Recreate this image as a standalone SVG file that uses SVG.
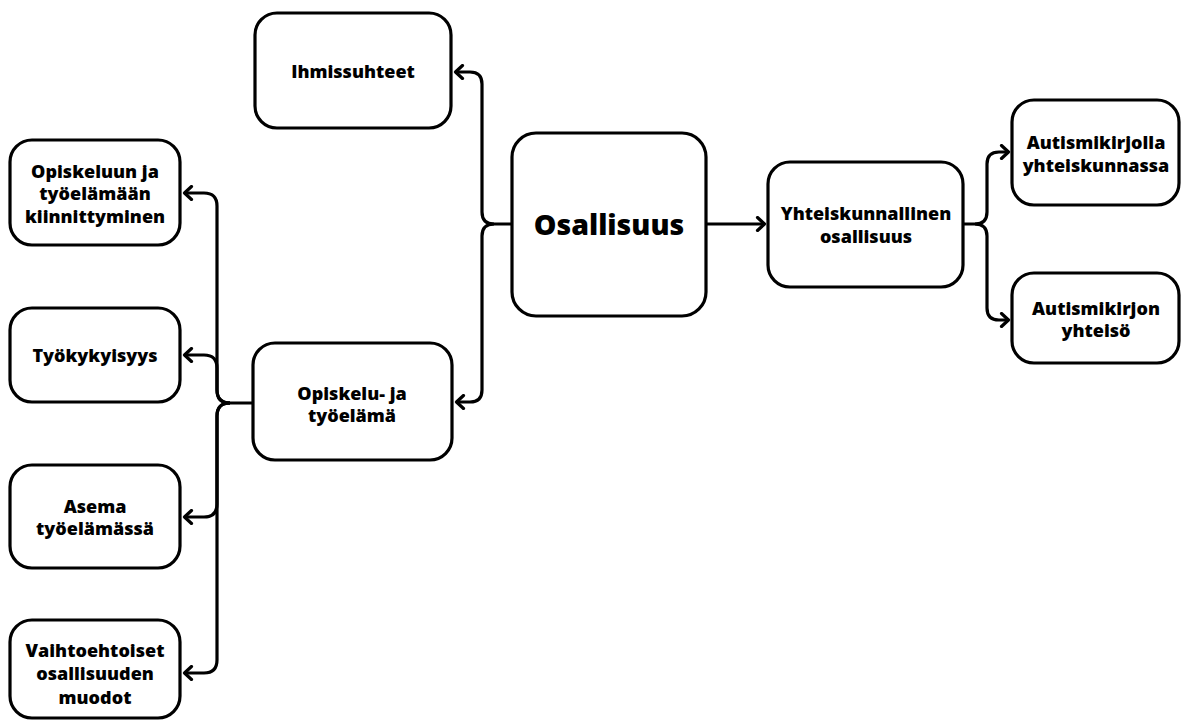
<svg xmlns="http://www.w3.org/2000/svg" width="1181" height="722" viewBox="0 0 1181 722">
<style>
.box{fill:#fff;stroke:#000;stroke-width:3.2}
.t{font-family:"Open Sans","DejaVu Sans",sans-serif;font-weight:800;font-size:18px;fill:#000;text-anchor:middle;dominant-baseline:central}
.big{font-size:28.5px}
.c{fill:none;stroke:#000;stroke-width:3.2;stroke-linejoin:round}
</style>
<defs>
<marker id="ah" viewBox="0 0 14 16" refX="11.5" refY="8" markerWidth="14" markerHeight="16" markerUnits="userSpaceOnUse" orient="auto">
<path d="M4,1.5 L11,8 L4,14.5" fill="none" stroke="#000" stroke-width="3.2" stroke-linecap="round" stroke-linejoin="round"/>
</marker>
</defs>
<rect width="1181" height="722" fill="#fff"/>
<g id="connectors">
<path class="c" marker-end="url(#ah)" d="M512,224 H494 Q482,224 482,212 V84 Q482,72 470,72 H455"/>
<path class="c" marker-end="url(#ah)" d="M494,224 Q482,224 482,236 V390 Q482,402 470,402 H456"/>
<path class="c" marker-end="url(#ah)" d="M706,224 H765"/>
<path class="c" marker-end="url(#ah)" d="M963,224 H975 Q987,224 987,212 V164 Q987,152 999,152 H1009"/>
<path class="c" marker-end="url(#ah)" d="M975,224 Q987,224 987,236 V308 Q987,320 999,320 H1009"/>
<path class="c" marker-end="url(#ah)" d="M253,403 H230 Q217,403 217,390 V206 Q217,193 204,193 H184"/>
<path class="c" marker-end="url(#ah)" d="M230,403 Q217,403 217,390 V368 Q217,355 204,355 H184"/>
<path class="c" marker-end="url(#ah)" d="M230,403 Q217,403 217,416 V504 Q217,517 204,517 H184"/>
<path class="c" marker-end="url(#ah)" d="M230,403 Q217,403 217,416 V660 Q217,673 204,673 H184"/>
</g>
<g id="ihmissuhteet"><rect class="box" x="255" y="13" width="196" height="115" rx="22"/><text class="t" x="353" y="71">Ihmissuhteet</text></g>
<g id="osallisuus"><rect class="box" x="512" y="133" width="194" height="183" rx="24"/><text class="t big" x="609" y="224">Osallisuus</text></g>
<g id="opiskelu"><rect class="box" x="253" y="343" width="199" height="117" rx="22"/><text class="t" x="352" y="393">Opiskelu- ja</text><text class="t" x="352" y="415">työelämä</text></g>
<g id="kiinnittyminen"><rect class="box" x="10" y="140" width="170" height="105" rx="22"/><text class="t" x="95" y="171">Opiskeluun ja</text><text class="t" x="95" y="193">työelämään</text><text class="t" x="95" y="216">kiinnittyminen</text></g>
<g id="tyokykyisyys"><rect class="box" x="10" y="308" width="170" height="94" rx="22"/><text class="t" x="95" y="355">Työkykyisyys</text></g>
<g id="asema"><rect class="box" x="10" y="465" width="170" height="103" rx="22"/><text class="t" x="95" y="506">Asema</text><text class="t" x="95" y="528">työelämässä</text></g>
<g id="vaihtoehtoiset"><rect class="box" x="10" y="620" width="170" height="98" rx="22"/><text class="t" x="95" y="650">Vaihtoehtoiset</text><text class="t" x="95" y="673">osallisuuden</text><text class="t" x="95" y="697">muodot</text></g>
<g id="yhteiskunnallinen"><rect class="box" x="768" y="162" width="195" height="125" rx="22"/><text class="t" x="866" y="213">Yhteiskunnallinen</text><text class="t" x="866" y="236">osallisuus</text></g>
<g id="autismikirjolla"><rect class="box" x="1012" y="100" width="167" height="105" rx="22"/><text class="t" x="1096" y="142">Autismikirjolla</text><text class="t" x="1096" y="165">yhteiskunnassa</text></g>
<g id="autismikirjon"><rect class="box" x="1012" y="273" width="167" height="90" rx="22"/><text class="t" x="1096" y="308">Autismikirjon</text><text class="t" x="1096" y="330">yhteisö</text></g>
</svg>
